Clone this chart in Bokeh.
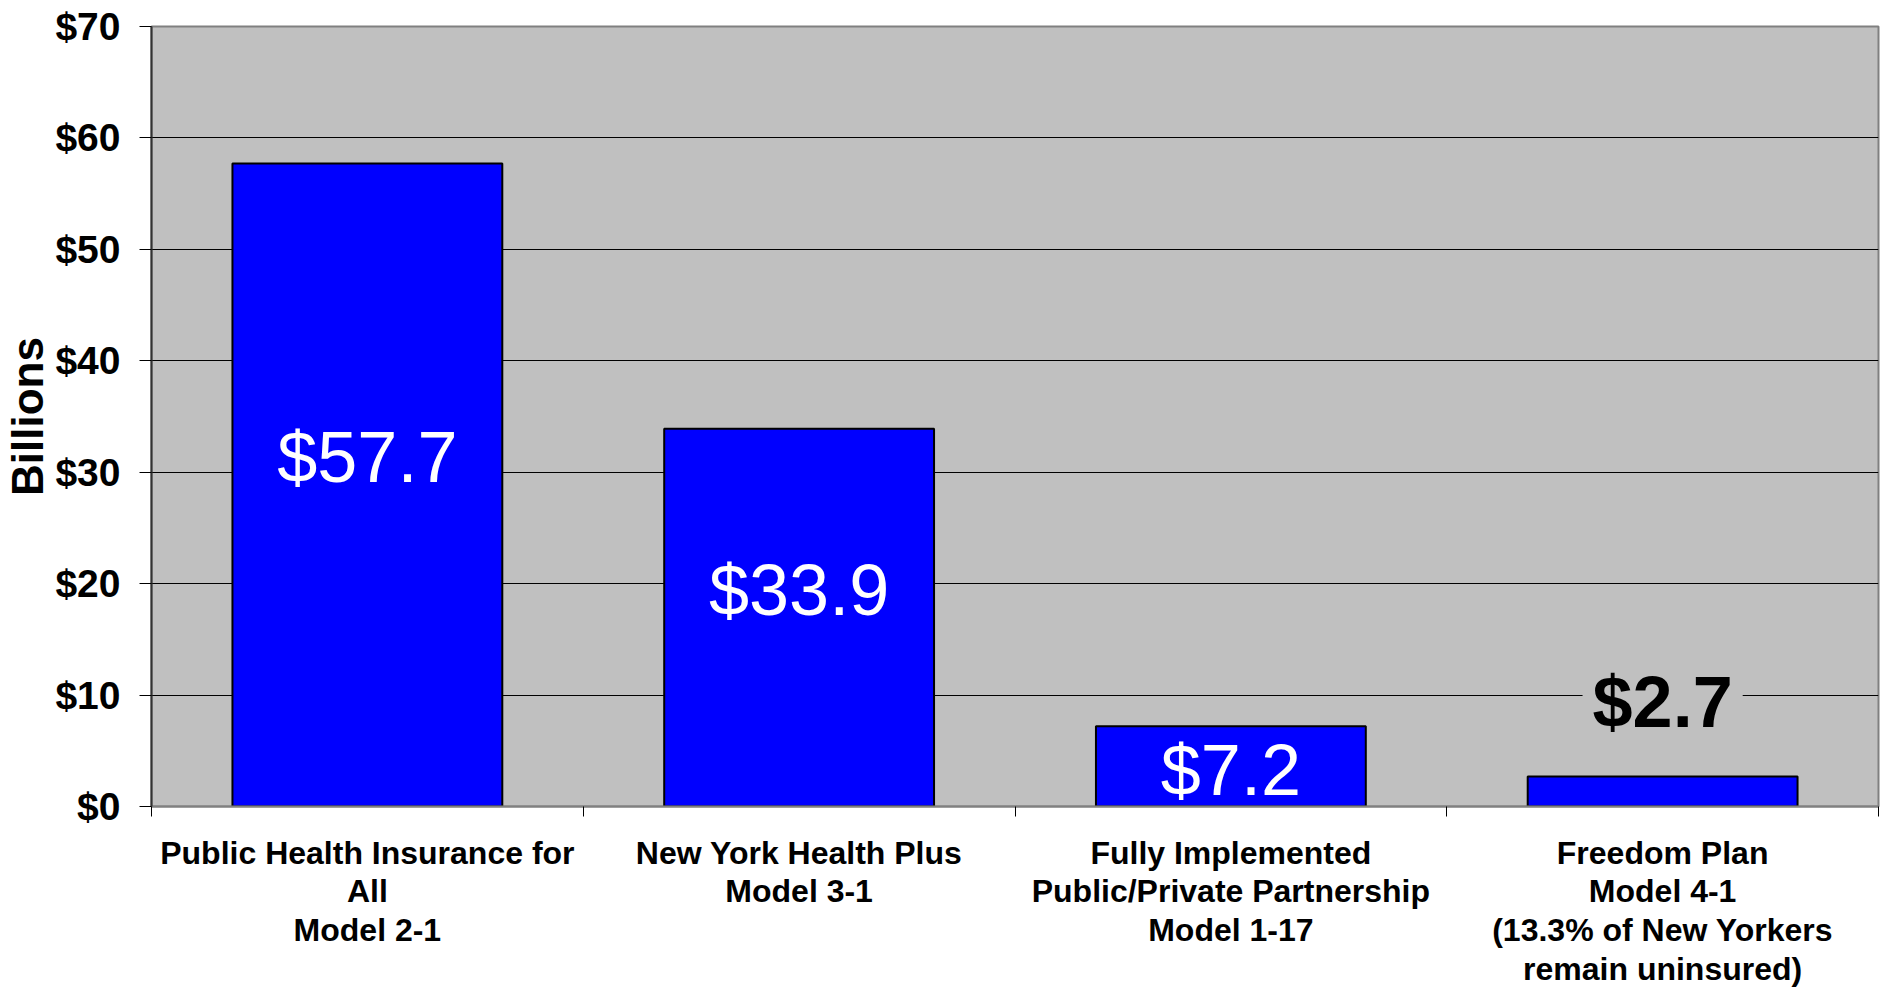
from bokeh.plotting import figure
from bokeh.models import FixedTicker, Range1d, Label, PrintfTickFormatter
from bokeh.embed import file_html
from bokeh.resources import INLINE

categories = [
    "Public Health Insurance for\nAll\nModel 2-1",
    "New York Health Plus\nModel 3-1",
    "Fully Implemented\nPublic/Private Partnership\nModel 1-17",
    "Freedom Plan\nModel 4-1\n(13.3% of New Yorkers\nremain uninsured)",
]
values = [57.7, 33.9, 7.2, 2.7]
value_labels = ["$57.7", "$33.9", "$7.2", "$2.7"]
y_ticks = [0, 10, 20, 30, 40, 50, 60, 70]

FONT = "Liberation Sans"
centers = [i + 0.5 for i in range(len(categories))]
bounds = [i for i in range(len(categories) + 1)]

p = figure(width=1881, height=990, x_range=Range1d(0, len(categories)), y_range=Range1d(0, 70),
           output_backend="svg", toolbar_location=None,
           min_border_left=151, min_border_right=3, min_border_top=26, min_border_bottom=182)
p.background_fill_color = "#C0C0C0"
p.border_fill_color = "white"
p.outline_line_color = "#808080"
p.outline_line_width = 2

p.vbar(x=centers, top=values, width=0.625, fill_color="#0000FF", line_color="black", line_width=2)

# y axis
p.yaxis.ticker = FixedTicker(ticks=y_ticks)
p.yaxis.formatter = PrintfTickFormatter(format="$%d")
p.yaxis.major_label_text_font = FONT
p.yaxis.major_label_text_font_style = "bold"
p.yaxis.major_label_text_font_size = "39px"
p.yaxis.major_label_text_color = "black"
p.yaxis.major_tick_out = 12
p.yaxis.major_tick_in = 0
p.yaxis.minor_tick_out = 0
p.yaxis.minor_tick_in = 0
p.yaxis.major_tick_line_color = "black"
p.yaxis.major_label_standoff = 19
p.yaxis.axis_line_color = "#333333"
p.yaxis.axis_line_width = 2
p.yaxis.axis_label = "Billions"
p.yaxis.axis_label_text_font = FONT
p.yaxis.axis_label_text_font_style = "bold"
p.yaxis.axis_label_text_font_size = "44px"
p.yaxis.axis_label_text_color = "black"
p.yaxis.axis_label_standoff = 0

# x axis
p.xaxis.ticker = FixedTicker(ticks=centers, minor_ticks=bounds)
p.xaxis.major_label_overrides = {c: lab for c, lab in zip(centers, categories)}
p.xaxis.major_tick_out = 0
p.xaxis.major_tick_in = 0
p.xaxis.minor_tick_out = 10
p.xaxis.minor_tick_in = 0
p.xaxis.minor_tick_line_color = "black"
p.xaxis.major_label_standoff = 18
p.xaxis.major_label_text_font = FONT
p.xaxis.major_label_text_font_style = "bold"
p.xaxis.major_label_text_font_size = "32px"
p.xaxis.major_label_text_color = "black"
p.xaxis.major_label_text_line_height = 1.08
p.xaxis.axis_line_color = "#808080"
p.xaxis.axis_line_width = 2

p.xgrid.visible = False
p.ygrid.ticker = FixedTicker(ticks=y_ticks)
p.ygrid.grid_line_color = "black"
p.ygrid.grid_line_width = 1

# value labels
for c, v, t in zip(centers, values, value_labels):
    if v > 5:
        lab = Label(x=c, y=v / 2, text=t, y_offset=(28 if v > 20 else -4),
                    text_align="center", text_baseline="middle",
                    text_font=FONT, text_font_size="72px", text_color="white")
    else:
        lab = Label(x=c, y=v, text=t, y_offset=74,
                    text_align="center", text_baseline="middle",
                    text_font=FONT, text_font_size="72px", text_font_style="bold",
                    text_color="black", background_fill_color="#C0C0C0", padding=10)
    p.add_layout(lab)

open("out.html", "w").write(file_html(p, INLINE))
